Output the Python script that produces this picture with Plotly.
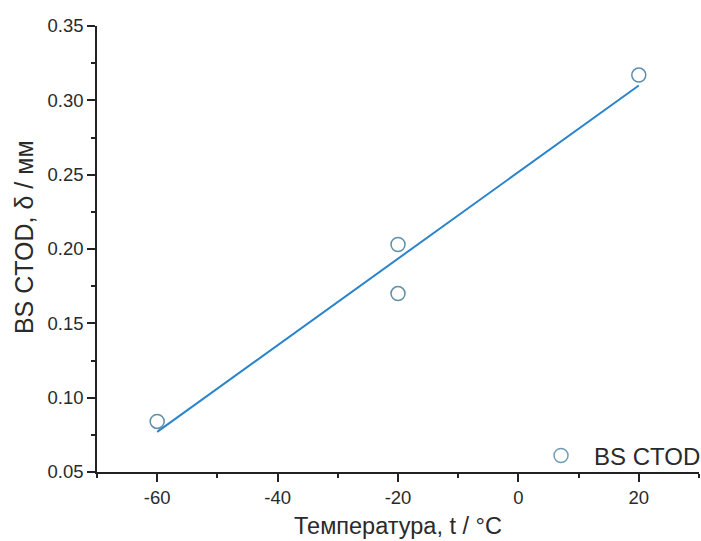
import plotly.graph_objects as go

temp = [-60, -20, -20, 20]
ctod = [0.084, 0.203, 0.170, 0.317]
fit_t = [-60, 20]
fit_ctod = [0.077, 0.310]
x_ticks = [-60, -40, -20, 0, 20]
x_labels = ["-60", "-40", "-20", "0", "20"]
y_ticks = [0.05, 0.10, 0.15, 0.20, 0.25, 0.30, 0.35]
y_labels = ["0.05", "0.10", "0.15", "0.20", "0.25", "0.30", "0.35"]

font = "Liberation Sans, Arial, sans-serif"
fig = go.Figure()
fig.add_trace(go.Scatter(x=fit_t, y=fit_ctod, mode="lines",
                         line=dict(color="#2a84cc", width=2), showlegend=False))
fig.add_trace(go.Scatter(x=temp, y=ctod, mode="markers", name="BS CTOD",
                         showlegend=False,
                         marker=dict(symbol="circle-open", size=14,
                                     color="#5f8fa6", line=dict(width=1.5))))
fig.add_trace(go.Scatter(x=[None], y=[None], mode="markers", name="BS CTOD",
                         marker=dict(symbol="circle-open", size=14,
                                     color="#6f9db2", line=dict(width=1.5))))
fig.update_layout(
    width=701, height=541,
    margin=dict(l=97, r=2, t=26, b=69, autoexpand=False),
    plot_bgcolor="white", paper_bgcolor="white",
    font=dict(family=font, size=18.5, color="#2a2a2a"),
    legend=dict(x=0.716, y=0.036, xanchor="left", yanchor="middle",
                itemwidth=56,
                font=dict(size=24), bgcolor="rgba(0,0,0,0)"),
    annotations=[dict(text="BS CTOD, δ / мм", textangle=-90,
                      xref="paper", yref="paper", x=-0.121, y=0.527,
                      xanchor="center", yanchor="middle", showarrow=False,
                      font=dict(size=25))],
)
fig.update_xaxes(range=[-70, 30], tickvals=x_ticks, ticktext=x_labels,
                 showline=True, linecolor="#222", linewidth=1.5,
                 ticks="outside", ticklen=8, tickwidth=1.5, tickcolor="#222",
                 minor=dict(ticks="outside", ticklen=4, dtick=10, tick0=-70, tickcolor="#222"),
                 showgrid=False, zeroline=False,
                 title=dict(text="Температура, t / °C", font=dict(size=23.5), standoff=11))
fig.update_yaxes(range=[0.05, 0.35], tickvals=y_ticks, ticktext=y_labels,
                 showline=True, linecolor="#222", linewidth=1.5,
                 ticks="outside", ticklen=8, tickwidth=1.5, tickcolor="#222",
                 minor=dict(ticks="outside", ticklen=4, dtick=0.025, tick0=0.05, tickcolor="#222"),
                 showgrid=False, zeroline=False)
fig.write_html("out.html", post_script="document.body.style.margin='0';",
               config={"displayModeBar": False})
